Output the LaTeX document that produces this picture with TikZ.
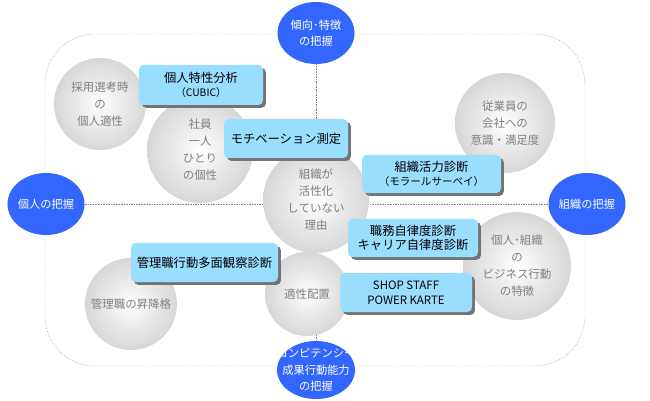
\documentclass[tikz,border=0pt]{standalone}
\usepackage{fontspec}
\setmainfont{Noto Sans CJK JP}
\usetikzlibrary{shapes.geometric, shadows, backgrounds}
\definecolor{graspblue}{RGB}{51,102,255}
\definecolor{toolblue}{RGB}{153,221,255}
\definecolor{toolshadow}{RGB}{115,115,115}
\definecolor{balltext}{RGB}{128,128,128}

\begin{document}
\begin{tikzpicture}[
    x=0.03cm, y=-0.03cm,
    every node/.style={align=center},
    grasp/.style={ellipse, fill=graspblue, inner sep=0pt, minimum width=2.31cm, minimum height=1.86cm},
    grasptext/.style={text=white, inner sep=0pt, font=\fontsize{9.6}{14}\selectfont},
    ball/.style={circle, inner sep=0pt, shading=radial, inner color=white, outer color=gray!32, text=balltext, font=\fontsize{9.8}{14.5}\selectfont},
    tool/.style={rectangle, rounded corners=4pt, fill=toolblue, inner sep=0pt, font=\fontsize{10.5}{12.5}\selectfont,
        drop shadow={shadow xshift=2.5pt, shadow yshift=-2.5pt, fill=toolshadow, opacity=1}},
    guide/.style={densely dotted, gray}
]
    \useasboundingbox (0,0) rectangle (650,401);

    % themes
    \node[ball, minimum size=2.76cm] (hiring) at (100,104) {採用選考時\\の\\個人適性};
    \node[ball, minimum size=3.18cm] (person) at (200,150) {社員\\一人\\ひとり\\の個性};
    \node[ball, minimum size=3.18cm] (reason) at (316,200) {組織が\\活性化\\していない\\理由};
    \node[ball, minimum size=3.0cm] (mood) at (505,123) {従業員の\\会社への\\意識・満足度};
    \node[ball, minimum size=2.76cm] (promo) at (131,304) {管理職の昇降格};
    \node[ball, minimum size=2.52cm] (place) at (307,294) {適性配置};
    \node[ball, minimum size=3.24cm] (action) at (517,266) {個人･組織\\の\\ビジネス行動\\の特徴};

    % tools
    \node[tool, minimum width=3.72cm, minimum height=1.2cm] (cubic) at (201,85)
        {個人特性分析\\{\fontsize{8.8}{11}\selectfont （CUBIC）}};
    \node[tool, minimum width=3.72cm, minimum height=1.17cm] (motiv) at (286,138.5) {モチベーション測定};
    \node[tool, minimum width=4.17cm, minimum height=1.14cm] (morale) at (431.5,174)
        {組織活力診断\\{\fontsize{9}{11}\selectfont （モラールサーベイ）}};
    \node[tool, minimum width=3.9cm, minimum height=1.14cm] (autonomy) at (413,238) {職務自律度診断\\キャリア自律度診断};
    \node[tool, minimum width=3.96cm, minimum height=1.17cm, font=\fontsize{9.8}{12.5}\selectfont] (karte) at (406,292.5) {SHOP STAFF\\POWER KARTE};
    \node[tool, minimum width=4.41cm, minimum height=1.17cm] (manager) at (204.5,262.5) {管理職行動多面観察診断};

    % axes
    \node[grasp] (trend) at (316,33) {};
    \node[grasptext] (trendtext) at (trend) {傾向･特徴\\の把握};
    \node[grasp] (indiv) at (46,204) {};
    \node[grasptext] (indivtext) at (indiv) {個人の把握};
    \node[grasp] (org) at (587,204) {};
    \node[grasptext] (orgtext) at (org) {組織の把握};
    \node[grasp, minimum width=2.34cm, minimum height=1.74cm] (comp) at (316,370) {};
    \node[grasptext] (comptext) at (comp) {コンピテンシー\\成果行動能力\\の把握};

    \begin{pgfonlayer}{background}
        \draw[guide, rounded corners=1.5cm] (45,34) rectangle (585,366);
        \draw[guide] (trend) -- (comp);
        \draw[guide] (indiv) -- (org);
    \end{pgfonlayer}
\end{tikzpicture}
\end{document}
